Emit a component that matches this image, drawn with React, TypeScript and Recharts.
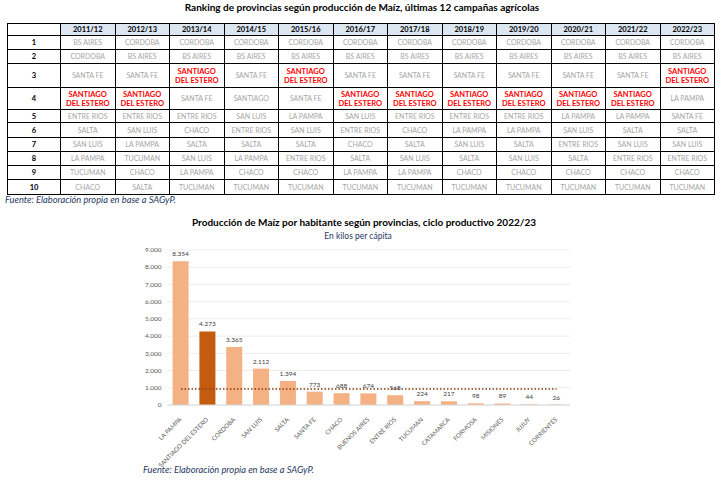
import { BarChart, Bar, XAxis, YAxis, CartesianGrid, Cell, LabelList, ReferenceLine } from "recharts";

const seasons = ["2011/12", "2012/13", "2013/14", "2014/15", "2015/16", "2016/17", "2017/18", "2018/19", "2019/20", "2020/21", "2021/22", "2022/23"];
const ranks = [1, 2, 3, 4, 5, 6, 7, 8, 9, 10];

const SDE = "SANTIAGO DEL ESTERO";
const r2011 = ["BS AIRES", "CORDOBA", "SANTA FE", SDE, "ENTRE RIOS", "SALTA", "SAN LUIS", "LA PAMPA", "TUCUMAN", "CHACO"];
const r2012 = ["CORDOBA", "BS AIRES", "SANTA FE", SDE, "ENTRE RIOS", "SAN LUIS", "LA PAMPA", "TUCUMAN", "CHACO", "SALTA"];
const r2013 = ["CORDOBA", "BS AIRES", SDE, "SANTA FE", "ENTRE RIOS", "CHACO", "SALTA", "SAN LUIS", "LA PAMPA", "TUCUMAN"];
const r2014 = ["CORDOBA", "BS AIRES", "SANTA FE", "SANTIAGO", "SAN LUIS", "ENTRE RIOS", "SALTA", "LA PAMPA", "CHACO", "TUCUMAN"];
const r2015 = ["CORDOBA", "BS AIRES", SDE, "SANTA FE", "LA PAMPA", "SAN LUIS", "SALTA", "ENTRE RIOS", "CHACO", "TUCUMAN"];
const r2016 = ["CORDOBA", "BS AIRES", "SANTA FE", SDE, "SAN LUIS", "ENTRE RIOS", "CHACO", "SALTA", "LA PAMPA", "TUCUMAN"];
const r2017 = ["CORDOBA", "BS AIRES", "SANTA FE", SDE, "ENTRE RIOS", "CHACO", "SALTA", "SAN LUIS", "LA PAMPA", "TUCUMAN"];
const r2018 = ["CORDOBA", "BS AIRES", "SANTA FE", SDE, "ENTRE RIOS", "LA PAMPA", "SAN LUIS", "SALTA", "CHACO", "TUCUMAN"];
const r2019 = ["CORDOBA", "BS AIRES", "SANTA FE", SDE, "ENTRE RIOS", "LA PAMPA", "SALTA", "SAN LUIS", "CHACO", "TUCUMAN"];
const r2020 = ["CORDOBA", "BS AIRES", "SANTA FE", SDE, "LA PAMPA", "SAN LUIS", "ENTRE RIOS", "SALTA", "CHACO", "TUCUMAN"];
const r2021 = ["CORDOBA", "BS AIRES", "SANTA FE", SDE, "LA PAMPA", "SALTA", "SAN LUIS", "ENTRE RIOS", "CHACO", "TUCUMAN"];
const r2022 = ["CORDOBA", "BS AIRES", SDE, "LA PAMPA", "SANTA FE", "SALTA", "SAN LUIS", "ENTRE RIOS", "CHACO", "TUCUMAN"];
const rankingCols = [r2011, r2012, r2013, r2014, r2015, r2016, r2017, r2018, r2019, r2020, r2021, r2022];

const provinces = ["LA PAMPA", "SANTIAGO DEL ESTERO", "CORDOBA", "SAN LUIS", "SALTA", "SANTA FE", "CHACO", "BUENOS AIRES", "ENTRE RIOS", "TUCUMAN", "CATAMARCA", "FORMOSA", "MISIONES", "JUJUY", "CORRIENTES"];
const kgPerCapita = [8354, 4273, 3365, 2112, 1394, 773, 688, 674, 568, 224, 217, 98, 89, 44, 26];
const averageKg = 930;
const yTicks = [0, 1000, 2000, 3000, 4000, 5000, 6000, 7000, 8000, 9000];

const chartData = provinces.map((p, i) => ({ name: p, value: kgPerCapita[i] }));

const fmt = (v: number) => String(v).replace(/\B(?=(\d{3})+(?!\d))/g, ".");
const FONT = "Lato, 'Open Sans', sans-serif";
// header + rows 1..10
const rowHeights = [12, 14, 14, 24, 22, 13, 15, 14, 14, 14, 15];

function XTick(props: any) {
  const { x, y, payload } = props;
  const tx = x + 1;
  const ty = y + 7;
  return (
    <text x={tx} y={ty} transform={`rotate(-45 ${tx} ${ty})`} textAnchor="end" fontSize={6.1} fill="#595959" fontFamily={FONT}>
      {payload.value}
    </text>
  );
}

function YTick(props: any) {
  const { x, y, payload } = props;
  return (
    <text x={x} y={y + 2.2} textAnchor="end" fontSize={6.5} fill="#595959" fontFamily={FONT}>
      {fmt(payload.value)}
    </text>
  );
}

function RankCell({ name }: { name: string }) {
  if (name === SDE) {
    return (
      <span style={{ color: "#ff0000", fontWeight: 700, fontSize: 7.5 }}>
        SANTIAGO
        <br />
        DEL ESTERO
      </span>
    );
  }
  return <span style={{ color: "#a6a6a6" }}>{name}</span>;
}

export default function App() {
  const td = { border: "1px solid #000", padding: 0, textAlign: "center" as const, overflow: "hidden" };
  return (
    <div style={{ position: "absolute", left: 0, top: 0, width: 728, height: 482, background: "#fff", fontFamily: FONT }}>
      <div style={{ position: "absolute", left: 0, width: 724, top: 1, textAlign: "center", fontSize: 10, fontWeight: 700, color: "#000" }}>
        Ranking de provincias según producción de Maíz, últimas 12 campañas agrícolas
      </div>
      <table
        style={{
          position: "absolute",
          left: 7,
          top: 23,
          width: 707,
          borderCollapse: "collapse",
          tableLayout: "fixed",
          border: "1.5px solid #000",
          fontSize: 7,
          lineHeight: "9px",
        }}
      >
        <colgroup>
          <col style={{ width: 53 }} />
          {seasons.map((s) => (
            <col key={s} style={{ width: 54.5 }} />
          ))}
        </colgroup>
        <tbody>
          <tr style={{ height: rowHeights[0] }}>
            <td style={td} />
            {seasons.map((s) => (
              <td key={s} style={{ ...td, background: "#dce6f1", fontSize: 7.5, fontWeight: 700 }}>
                {s}
              </td>
            ))}
          </tr>
          {ranks.map((r, ri) => (
            <tr key={r} style={{ height: rowHeights[ri + 1] }}>
              <td style={{ ...td, fontSize: 7.5, fontWeight: 700 }}>{r}</td>
              {rankingCols.map((col, ci) => (
                <td key={ci} style={td}>
                  <RankCell name={col[ri]} />
                </td>
              ))}
            </tr>
          ))}
        </tbody>
      </table>
      <div style={{ position: "absolute", left: 5, top: 194, fontSize: 9.3, fontStyle: "italic", color: "#1f3864" }}>
        Fuente: Elaboración propia en base a SAGyP.
      </div>

      <div style={{ position: "absolute", left: 0, width: 728, top: 216, textAlign: "center", fontSize: 10, fontWeight: 700, color: "#000" }}>
        Producción de Maíz por habitante según provincias, ciclo productivo 2022/23
      </div>
      <div style={{ position: "absolute", left: 0, width: 716, top: 231, textAlign: "center", fontSize: 8.5, color: "#1f3864" }}>
        En kilos per cápita
      </div>

      <div style={{ position: "absolute", left: 130, top: 236 }}>
        <BarChart width={450} height={240} data={chartData} margin={{ top: 14, right: 10, bottom: 0, left: 0 }}>
          <CartesianGrid vertical={false} stroke="#ececec" />
          <XAxis
            dataKey="name"
            interval={0}
            height={71}
            tick={<XTick />}
            tickLine={false}
            axisLine={{ stroke: "#d9d9d9" }}
          />
          <YAxis
            width={37.6}
            domain={[0, 9000]}
            ticks={yTicks}
            interval={0}
            axisLine={false}
            tickLine={false}
            tickSize={5}
            tickMargin={1}
            tick={<YTick />}
          />
          <Bar dataKey="value" barSize={16} isAnimationActive={false}>
            {chartData.map((d) => (
              <Cell key={d.name} fill={d.name === SDE ? "#c55a11" : "#f4b183"} />
            ))}
            <LabelList dataKey="value" position="top" offset={5} formatter={(v: any) => fmt(Number(v))} fontSize={6.5} fill="#404040" fontFamily={FONT} />
          </Bar>
          <ReferenceLine
            segment={[
              { x: provinces[0], y: averageKg },
              { x: provinces[provinces.length - 1], y: averageKg },
            ]}
            stroke="#843c0c"
            strokeWidth={1.5}
            strokeDasharray="1.5 2"
          />
        </BarChart>
      </div>

      <div style={{ position: "absolute", left: 143, top: 464, fontSize: 9.3, fontStyle: "italic", color: "#1f3864" }}>
        Fuente: Elaboración propia en base a SAGyP.
      </div>
    </div>
  );
}
